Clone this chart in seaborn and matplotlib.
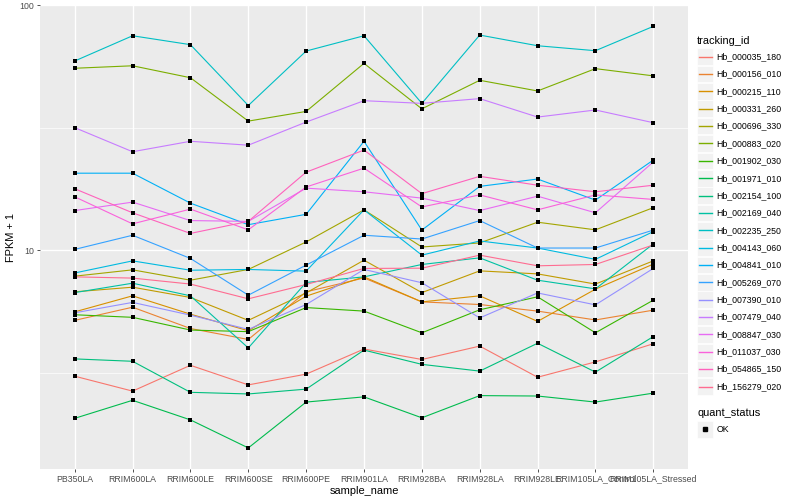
import numpy as np
import pandas as pd
import seaborn as sns
import matplotlib.pyplot as plt
from matplotlib.lines import Line2D
from matplotlib.patches import Rectangle

# Donnees (FPKM + 1)
samples = ['PB350LA', 'RRIM600LA', 'RRIM600LE', 'RRIM600SE', 'RRIM600PE', 'RRIM901LA',
           'RRIM928BA', 'RRIM928LA', 'RRIM928LE', 'RRIM105LA_Control', 'RRIM105LA_Stressed']

tracking_ids = ['Hb_000035_180', 'Hb_000156_010', 'Hb_000215_110', 'Hb_000331_260',
                'Hb_000696_330', 'Hb_000883_020', 'Hb_001902_030', 'Hb_001971_010',
                'Hb_002154_100', 'Hb_002169_040', 'Hb_002235_250', 'Hb_004143_060',
                'Hb_004841_010', 'Hb_005269_070', 'Hb_007390_010', 'Hb_007479_040',
                'Hb_008847_030', 'Hb_011037_030', 'Hb_054865_150', 'Hb_156279_020']

hb_000035_180 = [3.06, 2.66, 3.39, 2.82, 3.12, 3.95, 3.58, 4.06, 3.03, 3.50, 4.15]
hb_000156_010 = [5.17, 5.85, 4.79, 4.32, 6.76, 7.70, 6.15, 6.00, 5.64, 5.19, 5.69]
hb_000215_110 = [5.60, 6.51, 5.48, 4.69, 6.49, 7.78, 6.15, 6.51, 5.12, 6.93, 8.77]
hb_000331_260 = [6.76, 7.06, 6.41, 5.17, 6.69, 9.10, 6.71, 8.23, 8.00, 7.27, 9.04]
hb_000696_330 = [7.83, 8.31, 7.54, 8.34, 10.8, 14.6, 10.3, 10.7, 13.0, 12.1, 14.9]
hb_000883_020 = [55.2, 56.5, 50.5, 33.6, 36.8, 57.8, 37.7, 49.3, 44.6, 55.0, 51.4]
hb_001902_030 = [5.45, 5.32, 4.72, 4.65, 5.83, 5.64, 4.60, 5.71, 6.45, 4.60, 6.25]
hb_001971_010 = [2.06, 2.44, 2.03, 1.56, 2.40, 2.52, 2.07, 2.55, 2.54, 2.40, 2.61]
hb_002154_100 = [3.60, 3.52, 2.63, 2.59, 2.71, 3.91, 3.42, 3.21, 4.17, 3.18, 4.44]
hb_002169_040 = [6.71, 7.33, 6.51, 3.99, 7.38, 7.78, 8.74, 9.30, 7.54, 6.95, 10.6]
hb_002235_250 = [59.1, 74.9, 68.9, 38.9, 64.9, 74.9, 39.7, 75.4, 68.2, 65.1, 81.8]
hb_004143_060 = [8.07, 9.04, 8.28, 8.34, 8.21, 14.6, 9.54, 10.9, 10.2, 9.17, 11.9]
hb_004841_010 = [20.6, 20.6, 15.55, 12.7, 14.0, 27.8, 12.07, 18.2, 19.5, 16.0, 23.3]
hb_005269_070 = [10.07, 11.5, 9.25, 6.55, 8.69, 11.5, 11.1, 13.2, 10.2, 10.2, 12.07]
hb_007390_010 = [5.55, 6.12, 5.43, 4.75, 6.00, 8.34, 7.36, 5.29, 6.69, 5.98, 8.42]
hb_007479_040 = [31.6, 25.2, 27.8, 26.8, 33.3, 40.7, 39.7, 41.5, 34.9, 37.3, 33.1]
hb_008847_030 = [14.5, 15.7, 13.2, 13.1, 17.9, 17.3, 16.3, 14.5, 16.6, 14.2, 22.9]
hb_011037_030 = [16.5, 12.8, 14.7, 12.1, 18.1, 21.6, 15.0, 16.8, 14.6, 16.8, 16.1]
hb_054865_150 = [17.8, 14.2, 11.7, 13.1, 20.8, 25.6, 17.0, 20.0, 18.4, 17.3, 18.4]
hb_156279_020 = [7.78, 7.69, 7.27, 6.33, 7.24, 8.42, 8.44, 9.54, 8.63, 8.74, 10.5]

series = [hb_000035_180, hb_000156_010, hb_000215_110, hb_000331_260, hb_000696_330,
          hb_000883_020, hb_001902_030, hb_001971_010, hb_002154_100, hb_002169_040,
          hb_002235_250, hb_004143_060, hb_004841_010, hb_005269_070, hb_007390_010,
          hb_007479_040, hb_008847_030, hb_011037_030, hb_054865_150, hb_156279_020]

# palette "hue" de ggplot pour 20 niveaux
palette = ['#F8766D', '#EA8331', '#D89000', '#C09B00', '#A3A500', '#7CAE00', '#39B600',
           '#00BB4E', '#00BF7D', '#00C1A3', '#00BFC4', '#00BAE0', '#00B0F6', '#35A2FF',
           '#9590FF', '#C77CFF', '#E76BF3', '#FA62DB', '#FF62BC', '#FF6C91']

rows = []
for tid, vals in zip(tracking_ids, series):
    for s, v in zip(samples, vals):
        rows.append((tid, s, v, 'OK'))
df = pd.DataFrame(rows, columns=['tracking_id', 'sample_name', 'fpkm1', 'quant_status'])
df['x'] = df['sample_name'].map({s: i for i, s in enumerate(samples)})

plt.rcParams['font.family'] = ['Liberation Sans', 'DejaVu Sans']
fig = plt.figure(figsize=(8, 5), dpi=100)
ax = fig.add_axes([40 / 800, 31 / 500, 648 / 800, 464 / 500])
ax.set_facecolor('#EBEBEB')

sns.lineplot(data=df, x='x', y='fpkm1', hue='tracking_id', palette=palette,
             hue_order=tracking_ids, linewidth=0.8, legend=False, ax=ax, zorder=3)
sns.scatterplot(data=df, x='x', y='fpkm1', color='black', marker='s', s=6,
                linewidth=0, legend=False, ax=ax, zorder=4)

ax.set_yscale('log')
lo, hi = np.log10(df['fpkm1'].min()), np.log10(df['fpkm1'].max())
pad = (hi - lo) * 0.05
ax.set_ylim(10 ** (lo - pad), 10 ** (hi + pad))
ax.set_xlim(-0.6, len(samples) - 0.4)

ax.set_yticks([10, 100])
ax.set_yticklabels(['10', '100'])
ax.set_yticks([10 ** 0.5, 10 ** 1.5], minor=True)
ax.yaxis.set_minor_formatter(plt.NullFormatter())
ax.set_xticks(range(len(samples)))
ax.set_xticklabels(samples)

ax.grid(which='major', color='white', linewidth=1.0, zorder=0)
ax.grid(which='minor', axis='y', color='white', linewidth=0.5, zorder=0)
ax.set_axisbelow(True)
for sp in ax.spines.values():
    sp.set_visible(False)
ax.tick_params(which='major', length=2.5, width=0.6, color='#333333',
               labelsize=6.3, labelcolor='#4D4D4D', pad=1.5)
ax.tick_params(which='minor', length=0)

ax.set_xlabel('sample_name', fontsize=7.9, labelpad=2)
ax.set_ylabel('FPKM + 1', fontsize=7.9, labelpad=3)

# legende facon ggplot
W, H = 800, 500
def fy(py):
    return 1 - py / H

fig.text(697 / W, fy(40.5), 'tracking_id', fontsize=7.9, va='center', ha='left')
for i, (tid, col) in enumerate(zip(tracking_ids, palette)):
    yc = 56.7 + 17.36 * i
    fig.add_artist(Rectangle((697 / W, fy(yc + 8.3)), 16 / W, 16.6 / H,
                             facecolor='#F2F2F2', edgecolor='white', linewidth=0.5,
                             transform=fig.transFigure, zorder=1))
    fig.add_artist(Line2D([698.5 / W, 711.5 / W], [fy(yc), fy(yc)], color=col,
                          linewidth=1.0, transform=fig.transFigure, zorder=5))
    fig.text(716.5 / W, fy(yc), tid, fontsize=6.3, va='center', ha='left')

fig.text(697 / W, fy(412.5), 'quant_status', fontsize=7.9, va='center', ha='left')
fig.add_artist(Rectangle((697 / W, fy(429.3 + 8.3)), 16 / W, 16.6 / H,
                         facecolor='#F2F2F2', edgecolor='white', linewidth=0.5,
                         transform=fig.transFigure, zorder=1))
fig.add_artist(Line2D([705 / W], [fy(429.3)], marker='s', markersize=2.3,
                      color='black', linestyle='none', transform=fig.transFigure, zorder=5))
fig.text(716.5 / W, fy(429.3), 'OK', fontsize=6.3, va='center', ha='left')

fig.savefig('out.png', dpi=100, facecolor='white')
